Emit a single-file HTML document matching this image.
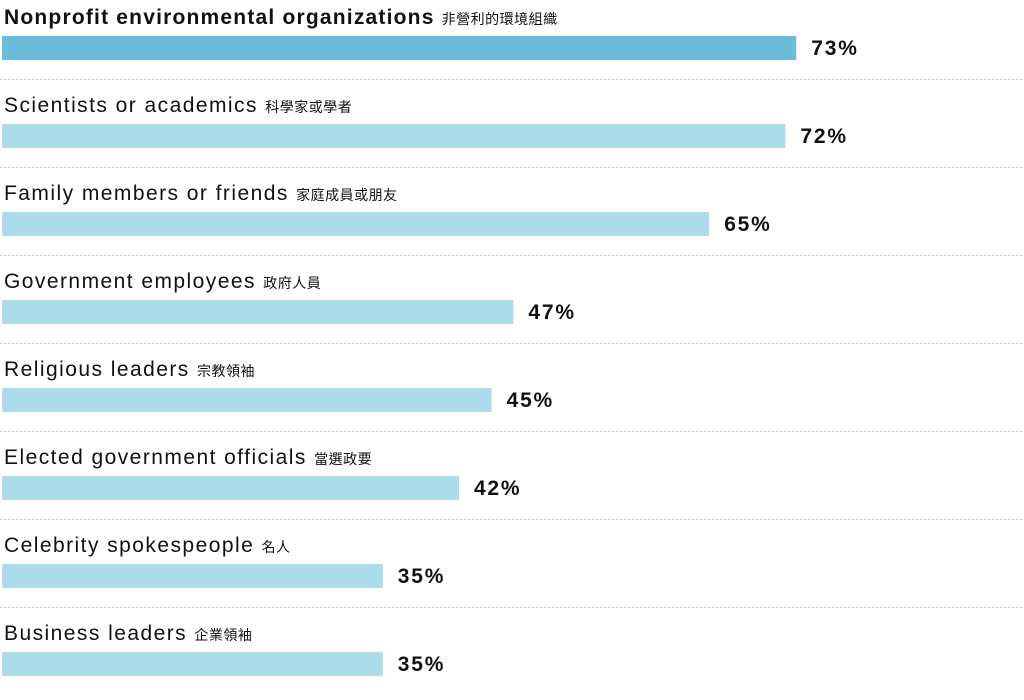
<!DOCTYPE html>
<html><head><meta charset="utf-8"><style>
body{margin:0;background:#fff;width:1024px;height:695px;overflow:hidden;font-family:"Liberation Sans","Noto Sans CJK TC",sans-serif;}
</style></head><body>
<svg id="chart" width="1024" height="695" xmlns="http://www.w3.org/2000/svg"></svg>
<script>
const labels=["Nonprofit environmental organizations","Scientists or academics","Family members or friends","Government employees","Religious leaders","Elected government officials","Celebrity spokespeople","Business leaders"];
const zhLabels=["非營利的環境組織","科學家或學者","家庭成員或朋友","政府人員","宗教領袖","當選政要","名人","企業領袖"];
const values=[73,72,65,47,45,42,35,35];
const svg=document.getElementById('chart');
const NS='http://www.w3.org/2000/svg';
const x0=2,scale=10.88,pitch=88;
function xw(v){return v*scale;}
function mk(t,a){const e=document.createElementNS(NS,t);for(const k in a)e.setAttribute(k,a[k]);svg.appendChild(e);return e;}
values.forEach((v,i)=>{
  const top=i*pitch;
  const t=mk('text',{x:4,y:top+24,'font-size':21,'letter-spacing':i===0?'1.2':'1.45','font-weight':i===0?'bold':'normal',fill:'#111'});
  
  
  t.textContent=labels[i]+' ';
  const ts=document.createElementNS(NS,'tspan');
  ts.setAttribute('font-size','14');ts.setAttribute('font-weight','normal');ts.setAttribute('letter-spacing','0.5');ts.setAttribute('dx','0');
  ts.textContent=zhLabels[i];t.appendChild(ts);
  const r=mk('rect',{x:x0,y:top+36,width:xw(v),height:24,rx:1,fill:i===0?'#6bbbdb':'#acdbe9'});
  
  
  const vt=mk('text',{x:x0+xw(v)+15,y:top+55,'font-size':21,'font-weight':'bold','letter-spacing':'1.8',fill:'#111'});
  
  
  vt.textContent=v+'%';
  const l=mk('line',{x1:0,x2:1024,y1:top+79.5,y2:top+79.5,stroke:'#bbb','stroke-width':1,'stroke-dasharray':'2,2'});
  
  
});
</script>
</body></html>
